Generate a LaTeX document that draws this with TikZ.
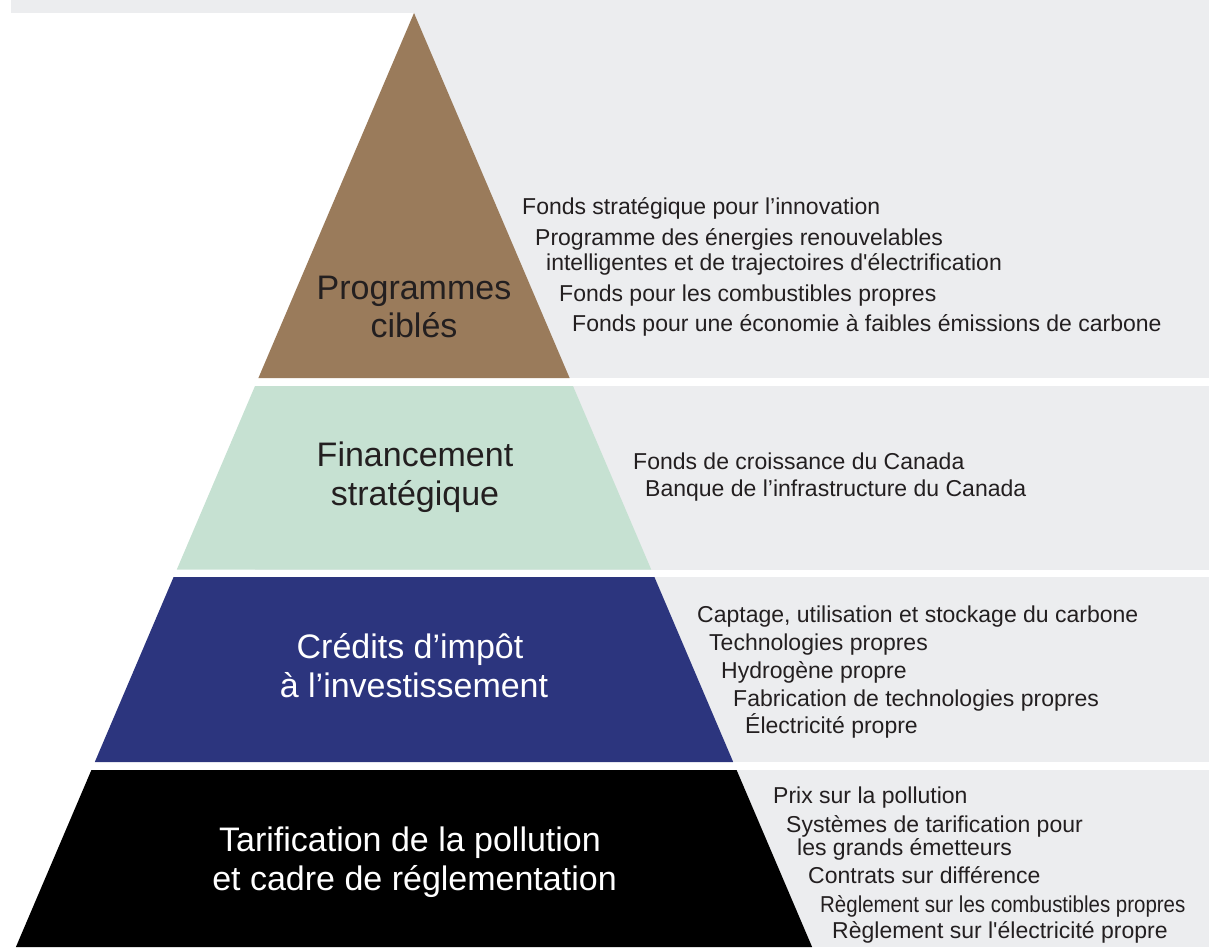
\documentclass[tikz,border=0pt]{standalone}
\usepackage{fontspec}
\setmainfont{Liberation Sans}[Ligatures=TeXOff]
\definecolor{bandgray}{RGB}{236,237,239}
\definecolor{brownband}{RGB}{154,123,91}
\definecolor{greenband}{RGB}{198,225,210}
\definecolor{blueband}{RGB}{44,53,126}
\definecolor{txt}{RGB}{35,31,32}
\begin{document}
\begin{tikzpicture}[x=1pt,y=-1pt,
  title/.style={font=\fontsize{34}{38}\selectfont, anchor=base, inner sep=0pt},
  item/.style={font=\fontsize{23}{27}\selectfont, anchor=base west, inner sep=0pt, text=txt}]
\useasboundingbox (0,0) rectangle (1209,947);
% top strip
\fill[bandgray] (11,0) rectangle (1209,13);
% gray bands to the right
\fill[bandgray] (414,13) rectangle (1209,378);
\fill[bandgray] (255,386) rectangle (1209,569.5);
\fill[bandgray] (173.6,577) rectangle (1209,762);
\fill[bandgray] (91.4,770) rectangle (1209,947);
% pyramid tiers
\fill[brownband] (414,13) -- (569.6,378) -- (258.4,378) -- cycle;
\fill[greenband] (255,386) -- (573,386) -- (651.2,569.5) -- (176.8,569.5) -- cycle;
\fill[blueband] (173.6,577) -- (654.4,577) -- (733.2,762) -- (94.8,762) -- cycle;
\fill[black] (91.4,770) -- (736.6,770) -- (812.1,947) -- (15.9,947) -- cycle;
% titles
\node[title, text=txt] (t1a) at (414,299) {Programmes};
\node[title, text=txt] (t1b) at (414,337) {ciblés};
\node[title, text=txt] (t2a) at (415,466) {Financement};
\node[title, text=txt] (t2b) at (415,505) {stratégique};
\node[title, text=white] (t3a) at (410,658) {Crédits d’impôt};
\node[title, text=white] (t3b) at (414,697) {à l’investissement};
\node[title, text=white] (t4a) at (410,851) {Tarification de la pollution};
\node[title, text=white] (t4b) at (414.5,890) {et cadre de réglementation};
% band 1 items
\node[item] (a1) at (522,214) {Fonds stratégique pour l’innovation};
\node[item] (a2) at (535,245) {Programme des énergies renouvelables};
\node[item] (a3) at (546,270) {intelligentes et de trajectoires d'électrification};
\node[item] (a4) at (559,301) {Fonds pour les combustibles propres};
\node[item] (a5) at (572,331) {Fonds pour une économie à faibles émissions de carbone};
% band 2 items
\node[item] (b1) at (633,469.5) {Fonds de croissance du Canada};
\node[item] (b2) at (645,496.5) {Banque de l’infrastructure du Canada};
% band 3 items
\node[item] (c1) at (697,622) {Captage, utilisation et stockage du carbone};
\node[item] (c2) at (709,650) {Technologies propres};
\node[item] (c3) at (721,678) {Hydrogène propre};
\node[item] (c4) at (733,706) {Fabrication de technologies propres};
\node[item] (c5) at (745,733.5) {Électricité propre};
% band 4 items
\node[item] (d1) at (773,803.5) {Prix sur la pollution};
\node[item] (d2) at (786,832) {Systèmes de tarification pour};
\node[item] (d3) at (797,855.5) {les grands émetteurs};
\node[item] (d4) at (808,883.5) {Contrats sur différence};
\node[item] (d5) at (820,912) {\scalebox{0.89}[1]{Règlement sur les combustibles propres}};
\node[item] (d6) at (832,938.5) {Règlement sur l'électricité propre};
\end{tikzpicture}
\end{document}
